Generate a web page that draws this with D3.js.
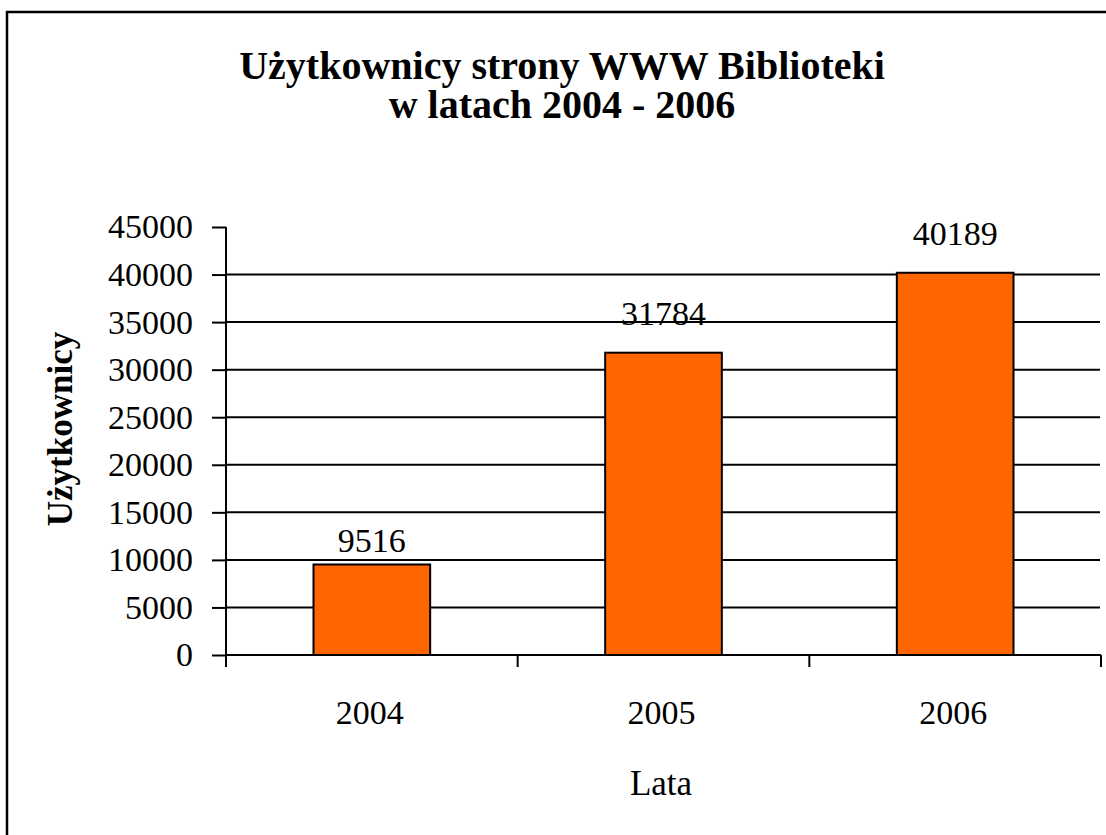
<!DOCTYPE html>
<html>
<head>
<meta charset="utf-8">
<script src="https://cdn.jsdelivr.net/npm/d3@7"></script>
<style>
  body { margin: 0; background: #fff; }
  svg { display: block; }
  svg text { font-family: "Times New Roman", "Liberation Serif", Tinos, "DejaVu Serif", serif; fill: #000; }
</style>
</head>
<body>
<div id="chart"></div>
<script>
// dane wykresu
const lata = ["2004", "2005", "2006"];
const uzytkownicy = [9516, 31784, 40189];
const yTicks = [0, 5000, 10000, 15000, 20000, 25000, 30000, 35000, 40000, 45000];
const tytul = ["Użytkownicy strony WWW Biblioteki", "w latach 2004 - 2006"];

const width = 1106, height = 835;
const plotLeft = 226, plotRight = 1101, plotTop = 227, plotBottom = 655;
const labelGap = [12, 28, 28]; // odstęp etykiet nad słupkami

const svg = d3.select("#chart")
    .append("svg")
    .attr("width", width)
    .attr("height", height);

// ramka
svg.append("rect")
    .attr("x", 7).attr("y", 12)
    .attr("width", width).attr("height", height)
    .attr("fill", "none")
    .attr("stroke", "#000")
    .attr("stroke-width", 2.5);

// tytuł
svg.append("text")
    .attr("text-anchor", "middle")
    .attr("font-size", "40px")
    .attr("font-weight", "bold")
    .selectAll("tspan")
    .data(tytul)
    .enter()
    .append("tspan")
    .attr("x", 562)
    .attr("y", (d, i) => 79 + i * 39)
    .text(d => d);

const x = d3.scaleBand().domain(lata).range([plotLeft, plotRight]).padding(0);
const y = d3.scaleLinear().domain([0, 45000]).range([plotBottom, plotTop]);

// linie siatki
svg.selectAll("line.grid")
    .data(yTicks.filter(t => t > 0 && t < 45000))
    .enter()
    .append("line")
    .attr("class", "grid")
    .attr("x1", plotLeft).attr("x2", plotRight - 1)
    .attr("y1", d => y(d)).attr("y2", d => y(d))
    .attr("stroke", "#000")
    .attr("stroke-width", 2);

// słupki
svg.selectAll("rect.bar")
    .data(uzytkownicy)
    .enter()
    .append("rect")
    .attr("class", "bar")
    .attr("x", (d, i) => x(lata[i]) + x.bandwidth() * 0.3)
    .attr("width", x.bandwidth() * 0.4)
    .attr("y", d => y(d))
    .attr("height", d => y(0) - y(d))
    .attr("fill", "#FF6600")
    .attr("stroke", "#000")
    .attr("stroke-width", 2);

// etykiety wartości
svg.selectAll("text.val")
    .data(uzytkownicy)
    .enter()
    .append("text")
    .attr("class", "val")
    .attr("x", (d, i) => x(lata[i]) + x.bandwidth() / 2)
    .attr("y", (d, i) => y(d) - labelGap[i])
    .attr("text-anchor", "middle")
    .attr("font-size", "34px")
    .text(d => d);

// oś Y
const yAxis = svg.append("g")
    .attr("transform", `translate(${plotLeft},0)`)
    .call(d3.axisLeft(y).tickValues(yTicks).tickSize(14).tickPadding(19).tickFormat(d3.format("d")));
yAxis.attr("font-family", null).attr("font-size", null);
yAxis.select(".domain").remove();
yAxis.selectAll(".tick line").attr("stroke", "#000").attr("stroke-width", 2);
yAxis.selectAll(".tick text")
    .attr("font-size", "34px")
    .attr("fill", "#000");
svg.append("line")
    .attr("x1", plotLeft).attr("x2", plotLeft)
    .attr("y1", plotTop).attr("y2", plotBottom + 12)
    .attr("stroke", "#000").attr("stroke-width", 2);

// oś X
svg.append("line")
    .attr("x1", plotLeft).attr("x2", plotRight)
    .attr("y1", plotBottom).attr("y2", plotBottom)
    .attr("stroke", "#000").attr("stroke-width", 2);
const xEdges = lata.map(d => x(d)).concat([plotRight]);
svg.selectAll("line.xtick")
    .data(xEdges)
    .enter()
    .append("line")
    .attr("class", "xtick")
    .attr("x1", d => d).attr("x2", d => d)
    .attr("y1", plotBottom).attr("y2", plotBottom + 12)
    .attr("stroke", "#000").attr("stroke-width", 2);
svg.selectAll("text.xlab")
    .data(lata)
    .enter()
    .append("text")
    .attr("class", "xlab")
    .attr("x", d => x(d) + x.bandwidth() / 2 - 2)
    .attr("y", 724)
    .attr("text-anchor", "middle")
    .attr("font-size", "34px")
    .text(d => d);

// tytuły osi
svg.append("text")
    .attr("transform", "translate(72,429) rotate(-90)")
    .attr("text-anchor", "middle")
    .attr("font-size", "35px")
    .attr("font-weight", "bold")
    .text("Użytkownicy");

svg.append("text")
    .attr("x", 661)
    .attr("y", 795)
    .attr("text-anchor", "middle")
    .attr("font-size", "35px")
    .text("Lata");
</script>
</body>
</html>
